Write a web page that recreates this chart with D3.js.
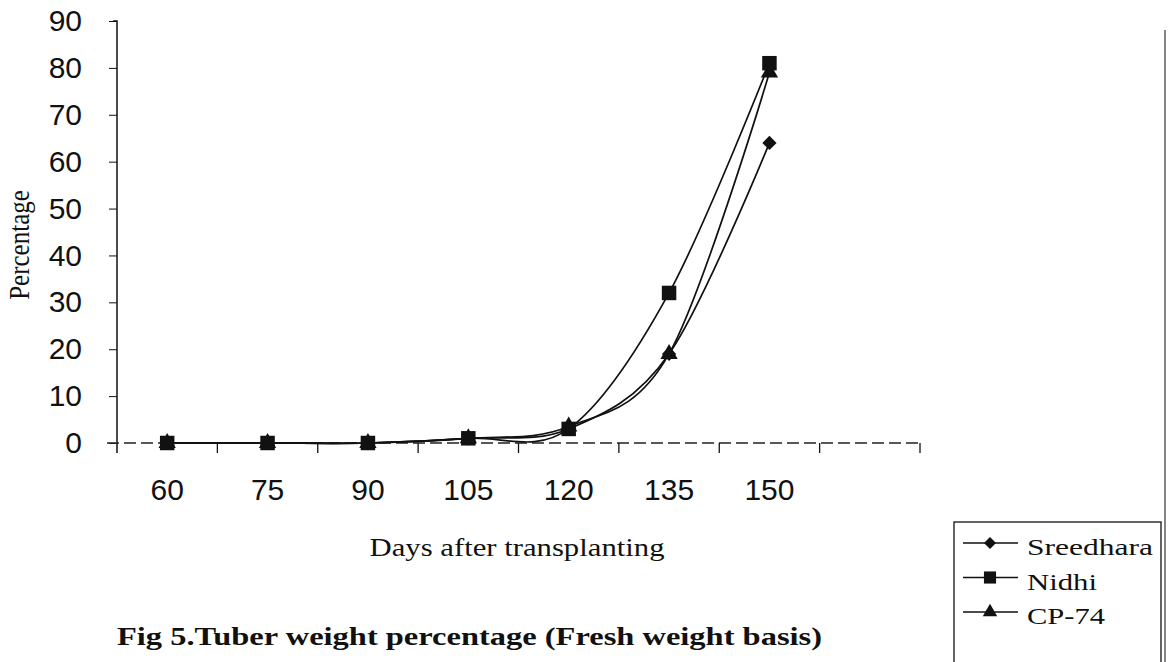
<!DOCTYPE html>
<html>
<head>
<meta charset="utf-8">
<script src="https://cdn.jsdelivr.net/npm/d3@7"></script>
<style>
  body { margin: 0; background: #fff; }
  svg { display: block; }
</style>
</head>
<body>
<div id="chart"></div>
<script>
"use strict";

const days = ["60", "75", "90", "105", "120", "135", "150"];
const sreedhara = [0, 0, 0, 1, 3, 19, 64];
const nidhi = [0, 0, 0, 1, 3, 32, 81];
const cp74 = [0, 0, 0, 1, 3.5, 19, 79];
const yTicks = [0, 10, 20, 30, 40, 50, 60, 70, 80, 90];
const seriesNames = ["Sreedhara", "Nidhi", "CP-74"];

const serif = "'Liberation Serif', 'Times New Roman', serif";
const sans = "'Liberation Sans', Arial, sans-serif";

const cont = {
    width: 1168,
    height: 662,
    left: 117,
    right: 920,
    top: 21,
    bottom: 443
}

window.onload = function () {
    let svg = d3.select("#chart")
        .append("svg")
        .attr("width", cont.width)
        .attr("height", cont.height);

    // 8 bands, the last one stays empty
    let xScale = d3.scaleBand()
        .domain(days.concat(["_"]))
        .range([cont.left, cont.right]);

    let yScale = d3.scaleLinear()
        .domain([0, 90])
        .range([cont.bottom, cont.top]);

    drawAxes(svg, xScale, yScale);

    let series = [
        { name: seriesNames[0], values: sreedhara, symbol: d3.symbolDiamond2, size: 130, width: 126 },
        { name: seriesNames[1], values: nidhi, symbol: d3.symbolSquare, size: 210, width: 70 },
        { name: seriesNames[2], values: cp74, symbol: d3.symbolTriangle, size: 130, width: 78 }
    ];

    let cx = (i) => xScale(days[i]) + xScale.bandwidth() / 2;

    let line = d3.line()
        .x((d, i) => cx(i))
        .y((d) => yScale(d))
        .curve(d3.curveCardinal.tension(0));

    series.forEach((s) => {
        svg.append("path")
            .datum(s.values)
            .attr("fill", "none")
            .attr("stroke", "#111")
            .attr("stroke-width", 1.7)
            .attr("d", line);
    });

    // squares go on top, like in the scan
    [series[0], series[2], series[1]].forEach((s, k) => {
        svg.selectAll(".pt" + k)
            .data(s.values)
            .enter()
            .append("path")
            .attr("class", "pt" + k)
            .attr("transform", (d, i) => "translate(" + cx(i) + "," + yScale(d) + ")")
            .attr("d", d3.symbol().type(s.symbol).size(s.size))
            .attr("fill", "#111");
    });

    makeLabels(svg);
    drawLegend(svg, series);

    // page edge on the right
    svg.append("line")
        .attr("x1", 1165).attr("x2", 1165)
        .attr("y1", 30).attr("y2", cont.height)
        .attr("stroke", "#333")
        .attr("stroke-width", 1.2);
}

function drawAxes(svg, xScale, yScale) {
    let yAxis = d3.axisLeft(yScale)
        .tickValues(yTicks)
        .tickSize(8)
        .tickPadding(27);
    let gy = svg.append("g")
        .attr("transform", "translate(" + cont.left + ",0)")
        .call(yAxis);
    gy.select(".domain").attr("stroke", "#111").attr("stroke-width", 1.5)
        .attr("d", "M-4," + cont.top + "H0V" + (cont.bottom + 10));
    gy.selectAll(".tick line").attr("stroke", "#111");
    gy.selectAll(".tick text")
        .attr("font-family", sans)
        .attr("font-size", 30)
        .attr("fill", "#111");

    // x axis: ticks sit between the categories
    let gx = svg.append("g")
        .attr("transform", "translate(0," + cont.bottom + ")");
    gx.append("line")
        .attr("x1", cont.left - 10).attr("x2", cont.right)
        .attr("stroke", "#222")
        .attr("stroke-width", 1.3)
        .attr("stroke-dasharray", "12,5");
    let bounds = xScale.domain().map((d) => xScale(d)).concat([cont.right]);
    gx.selectAll(".xtick")
        .data(bounds.slice(1))
        .enter()
        .append("line")
        .attr("x1", (d) => d).attr("x2", (d) => d)
        .attr("y1", 0).attr("y2", 10)
        .attr("stroke", "#111")
        .attr("stroke-width", 1.3);
    gx.selectAll(".xlabel")
        .data(days)
        .enter()
        .append("text")
        .attr("x", (d) => xScale(d) + xScale.bandwidth() / 2)
        .attr("y", 57)
        .attr("text-anchor", "middle")
        .attr("font-family", sans)
        .attr("font-size", 30)
        .attr("fill", "#111")
        .text((d) => d);
}

function makeLabels(svg) {
    svg.append("text")
        .attr("transform", "translate(29,245) scale(1.2,1) rotate(-90)")
        .attr("text-anchor", "middle")
        .attr("font-family", serif)
        .attr("font-size", 25)
        .attr("fill", "#111")
        .text("Percentage");

    svg.append("text")
        .attr("x", 517)
        .attr("y", 556)
        .attr("text-anchor", "middle")
        .attr("font-family", serif)
        .attr("font-size", 25)
        .attr("textLength", 295)
        .attr("lengthAdjust", "spacingAndGlyphs")
        .attr("fill", "#111")
        .text("Days after transplanting");

    svg.append("text")
        .attr("x", 117)
        .attr("y", 645)
        .attr("font-family", serif)
        .attr("font-weight", "bold")
        .attr("font-size", 26)
        .attr("textLength", 705)
        .attr("lengthAdjust", "spacingAndGlyphs")
        .attr("fill", "#111")
        .text("Fig 5.Tuber weight percentage (Fresh weight basis)");
}

function drawLegend(svg, series) {
    let g = svg.append("g");
    g.append("rect")
        .attr("x", 954).attr("y", 522)
        .attr("width", 207).attr("height", 150)
        .attr("fill", "none")
        .attr("stroke", "#111")
        .attr("stroke-width", 1.3);

    series.forEach((s, i) => {
        let y = 543 + i * 34.5;
        g.append("line")
            .attr("x1", 963).attr("x2", 1018)
            .attr("y1", y).attr("y2", y)
            .attr("stroke", "#111")
            .attr("stroke-width", 1.6);
        g.append("path")
            .attr("transform", "translate(990," + y + ")")
            .attr("d", d3.symbol().type(s.symbol).size(s.size * 0.7))
            .attr("fill", "#111");
        g.append("text")
            .attr("x", 1027)
            .attr("y", y + 12)
            .attr("font-family", serif)
            .attr("font-size", 24)
            .attr("textLength", s.width)
            .attr("lengthAdjust", "spacingAndGlyphs")
            .attr("fill", "#111")
            .text(s.name);
    });
}
</script>
</body>
</html>
